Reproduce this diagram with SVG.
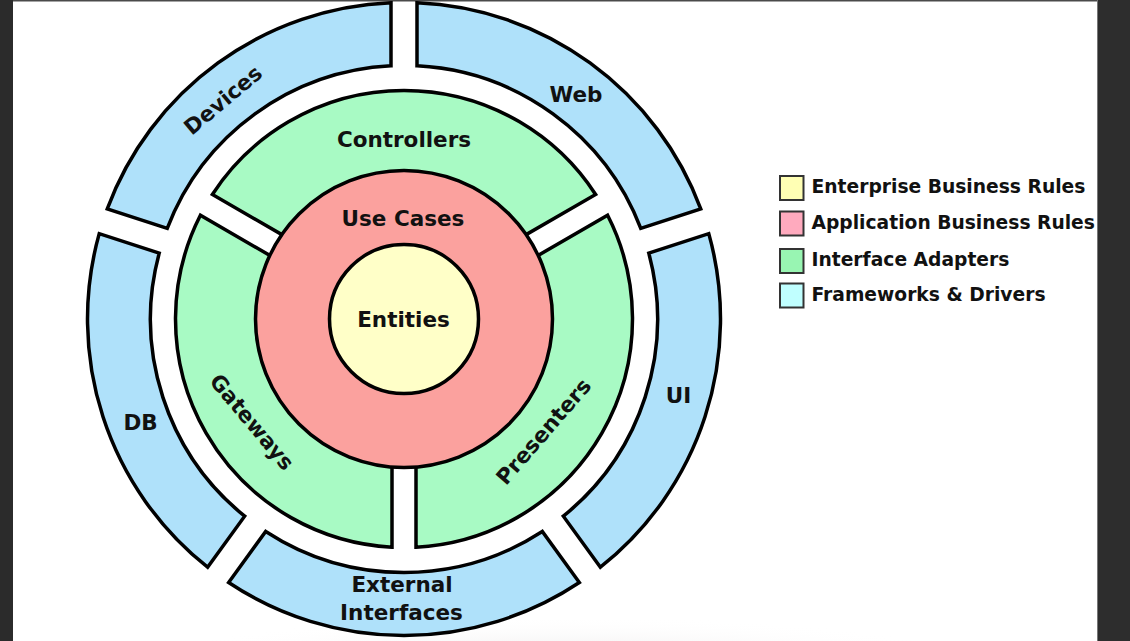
<svg xmlns="http://www.w3.org/2000/svg" width="1130" height="641" viewBox="0 0 1130 641">
  <defs>
    <radialGradient id="haze" cx="0.5" cy="0.5" r="0.5">
      <stop offset="0" stop-color="#e4e1e1" stop-opacity="1"/>
      <stop offset="1" stop-color="#ffffff" stop-opacity="0"/>
    </radialGradient>
    <style>
      .ring { stroke: #000; stroke-width: 3.5; stroke-linejoin: miter; }
      .blue { fill: #afe1fa; }
      .green { fill: #a8fac4; }
      .red { fill: #fba19e; }
      .yellow { fill: #ffffc8; }
      .lbl { font-family: "DejaVu Sans", "Verdana", sans-serif; font-weight: bold; font-size: 21.5px; fill: #111; text-anchor: middle; }
      .leg { font-family: "DejaVu Sans", "Verdana", sans-serif; font-weight: bold; font-size: 18.7px; fill: #111; }
      .box { stroke: #333; stroke-width: 2; }
    </style>
  </defs>

  <rect x="0" y="0" width="1130" height="641" fill="#ffffff"/>
  <ellipse cx="560" cy="668" rx="430" ry="52" fill="url(#haze)"/>
  <rect x="0" y="0" width="1130" height="1.5" fill="#4a4a4a"/>
  <rect x="0" y="0" width="13" height="641" fill="#2b2b2b"/>
  <rect x="1097" y="0" width="33" height="641" fill="#2d2d2d"/>
  <rect x="1097" y="0" width="1" height="641" fill="#777"/>

  <!-- Frameworks & Drivers (outer blue ring) -->
  <g id="web">
    <path class="ring blue" d="M 700.74,208.92 A 316.5 316.5 0 0 0 417,2.77 L 417,65.83 A 253.5 253.5 0 0 1 640.76,228.40 Z"/>
    <text class="lbl" x="576" y="101.5">Web</text>
  </g>
  <g id="devices">
    <path class="ring blue" d="M 391,2.77 A 316.5 316.5 0 0 0 107.26,208.92 L 167.24,228.40 A 253.5 253.5 0 0 1 391,65.83 Z"/>
    <text class="lbl" transform="translate(223,100) rotate(-40)" x="0" y="7.5">Devices</text>
  </g>
  <g id="db">
    <path class="ring blue" d="M 99.23,233.64 A 316.5 316.5 0 0 0 207.61,567.20 L 244.67,516.18 A 253.5 253.5 0 0 1 159.21,253.13 Z"/>
    <text class="lbl" x="140.5" y="429.5">DB</text>
  </g>
  <g id="external-interfaces">
    <path class="ring blue" d="M 228.64,582.49 A 316.5 316.5 0 0 0 579.36,582.49 L 542.29,531.46 A 253.5 253.5 0 0 1 265.71,531.46 Z"/>
    <text class="lbl" x="402" y="592">External</text>
    <text class="lbl" x="401.5" y="619.5">Interfaces</text>
  </g>
  <g id="ui">
    <path class="ring blue" d="M 600.39,567.20 A 316.5 316.5 0 0 0 708.77,233.64 L 648.79,253.13 A 253.5 253.5 0 0 1 563.33,516.18 Z"/>
    <text class="lbl" x="678.5" y="403">UI</text>
  </g>

  <!-- Interface Adapters (green ring) -->
  <g id="controllers">
    <path class="ring green" d="M 595.62,194.52 A 228.5 228.5 0 0 0 212.38,194.52 L 284.86,236.36 A 145 145 0 0 1 523.14,236.36 Z"/>
    <text class="lbl" x="404" y="146.5">Controllers</text>
  </g>
  <g id="gateways">
    <path class="ring green" d="M 200.39,215.30 A 228.5 228.5 0 0 0 392,547.18 L 392,463.50 A 145 145 0 0 1 272.86,257.14 Z"/>
    <text class="lbl" transform="translate(252,422) rotate(50)" x="0" y="7.5">Gateways</text>
  </g>
  <g id="presenters">
    <path class="ring green" d="M 416,547.18 A 228.5 228.5 0 0 0 607.61,215.30 L 535.14,257.14 A 145 145 0 0 1 416,463.50 Z"/>
    <text class="lbl" transform="translate(543.5,431.5) rotate(-49)" x="0" y="7.5">Presenters</text>
  </g>

  <!-- Application Business Rules -->
  <g id="use-cases">
    <circle class="ring red" cx="404" cy="319" r="148.5"/>
    <text class="lbl" x="403" y="225.5">Use Cases</text>
  </g>

  <!-- Enterprise Business Rules -->
  <g id="entities">
    <circle class="ring yellow" cx="404" cy="319" r="74.5"/>
    <text class="lbl" x="403.5" y="327">Entities</text>
  </g>

  <!-- Legend -->
  <g id="legend">
    <g id="legend-enterprise">
      <rect class="box" x="780" y="176" width="23.5" height="24" fill="#ffffb4"/>
      <text class="leg" x="811.5" y="193.3">Enterprise Business Rules</text>
    </g>
    <g id="legend-application">
      <rect class="box" x="780" y="211.5" width="23.5" height="24" fill="#ffaabe"/>
      <text class="leg" x="811.5" y="229">Application Business Rules</text>
    </g>
    <g id="legend-interface">
      <rect class="box" x="780" y="249" width="23.5" height="24" fill="#98f5b2"/>
      <text class="leg" x="811.5" y="266">Interface Adapters</text>
    </g>
    <g id="legend-frameworks">
      <rect class="box" x="780" y="283.5" width="23.5" height="24" fill="#c0ffff"/>
      <text class="leg" x="811.5" y="301">Frameworks &amp; Drivers</text>
    </g>
  </g>
</svg>
